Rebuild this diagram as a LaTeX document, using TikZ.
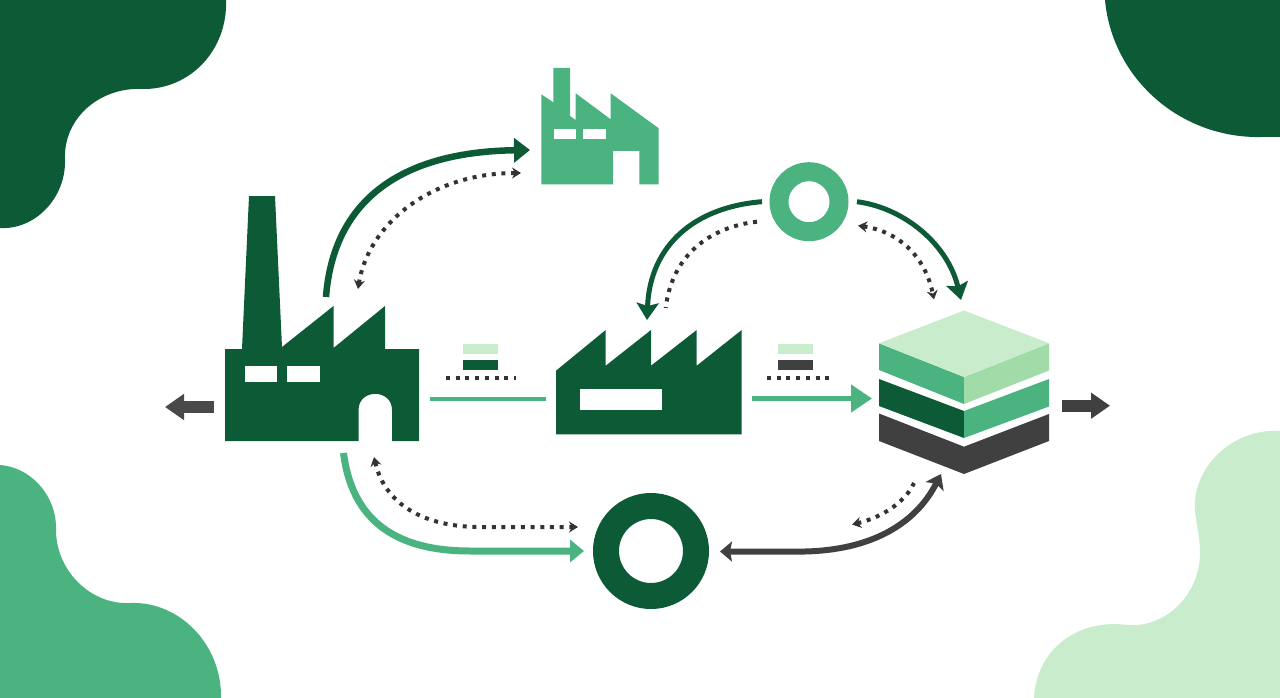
\documentclass[tikz,border=0pt]{standalone}
\usepackage{tikz}
\usetikzlibrary{arrows.meta,calc}
\definecolor{darkgreen}{HTML}{0D5A36}
\definecolor{midgreen}{HTML}{4BB380}
\definecolor{palegreen}{HTML}{C8ECCC}
\definecolor{sidegreen}{HTML}{A0DBA8}
\definecolor{darkgrey}{HTML}{404040}
\definecolor{dotgrey}{HTML}{333333}
\tikzset{
  ringnode/.style={circle,draw=#1,fill=none,inner sep=0pt,outer sep=0pt},
  legendbar/.style={fill=#1,draw=none,minimum width=34.5pt,minimum height=10pt,inner sep=0pt,outer sep=0pt},
  dotline/.style={dotgrey,line width=4pt,dash pattern=on 4pt off 5.7pt},
  dothead/.tip={Stealth[length=9pt,width=11pt,inset=3pt]},
  flow/.style={line width=#1},
}
\begin{document}
\begin{tikzpicture}[x=1pt,y=-1pt]
\useasboundingbox (0,0) rectangle (1280,698);
% corner blobs
\fill[darkgreen] (0,0) -- (226,0) .. controls (228,50) and (190,90) .. (142,89) .. controls (100,87) and (63,118) .. (65,160) .. controls (66,198) and (35,230) .. (0,228) -- cycle;
\fill[darkgreen] (1105,0) .. controls (1112,78) and (1180,139) .. (1262,137) -- (1280,137) -- (1280,0) -- cycle;
\fill[midgreen] (0,465) .. controls (30,467) and (57,495) .. (56,530) .. controls (56,570) and (90,605) .. (130,603) .. controls (180,601) and (222,645) .. (221,698) -- (0,698) -- cycle;
\fill[palegreen] (1280,431) .. controls (1232,428) and (1192,468) .. (1195,510) .. controls (1196,525) and (1200,535) .. (1200,553) .. controls (1200,595) and (1165,628) .. (1128,625) .. controls (1075,618) and (1036,652) .. (1034,698) -- (1280,698) -- cycle;
% big factory
\fill[darkgreen] (225,441) -- (225,349) -- (242,349) -- (249,196) -- (275,196) -- (282,347) -- (333.5,306) -- (333.5,348) -- (385,306) -- (385,349) -- (419,349) -- (419,441) -- (392,441) -- (392,410) .. controls (392,388.5) and (358.5,388.5) .. (358.5,410) -- (358.5,441) -- cycle;
\fill[white] (245,365.5) rectangle (277,381.5);
\fill[white] (287,365.5) rectangle (319.5,381.5);
% small factory
\fill[midgreen] (541.3,184.3) -- (541.3,94.3) -- (553.3,102.3) -- (553.3,68) -- (570,68) -- (570,116) -- (575.7,120) -- (575.7,93.3) -- (610.7,119.3) -- (610.7,93.3) -- (658.7,128.3) -- (658.7,184.3) -- (639.3,184.3) -- (639.3,151) -- (613,151) -- (613,184.3) -- cycle;
\fill[white] (554,129.3) rectangle (576.3,138.7);
\fill[white] (583.3,129.3) rectangle (605.7,138.7);
% middle factory
\fill[darkgreen] (556,434.3) -- (556,370.7) -- (605.7,330) -- (605.7,365.7) -- (651,330) -- (651,365.7) -- (696.7,330) -- (696.7,365.7) -- (741.7,330) -- (741.7,434.3) -- cycle;
\fill[white] (580,389.3) rectangle (661.7,410.3);
% stack
\fill[darkgrey] (879,413.5) -- (964,446.7) -- (1049,414) -- (1049,441) -- (964,474) -- (879,441) -- cycle;
\fill[darkgreen] (879,379) -- (964,411) -- (964,438) -- (879,406) -- cycle;
\fill[midgreen] (964,411) -- (1049,379) -- (1049,406.5) -- (964,438) -- cycle;
\fill[midgreen] (879,343.3) -- (964,377) -- (964,404) -- (879,370) -- cycle;
\fill[sidegreen] (964,377) -- (1049,343.3) -- (1049,370.5) -- (964,404) -- cycle;
\fill[palegreen] (879,343.3) -- (964,310.5) -- (1049,343.3) -- (964,377) -- cycle;
% rings
\node[ringnode=midgreen,line width=19pt,minimum size=60pt] (topring) at (809,201.7) {};
\node[ringnode=darkgreen,line width=26pt,minimum size=90pt] (lowring) at (651,551) {};
% legends
\node[legendbar=palegreen] (legendAtop) at (480.7,349) {};
\node[legendbar=darkgreen] (legendAlow) at (480.7,365) {};
\node[legendbar=palegreen] (legendBtop) at (795.5,349) {};
\node[legendbar=darkgrey] (legendBlow) at (795.5,365) {};
% connector ends
\coordinate (bigTop) at (326,297);
\coordinate (bigDot) at (358,289);
\coordinate (bigBot) at (343.5,453);
\coordinate (bigBotDot) at (374,457);
\coordinate (bigOut) at (213.5,407);
\coordinate (bigOutTip) at (165,407);
\coordinate (smallIn) at (530,150);
\coordinate (smallDot) at (521,173);
\coordinate (ringL) at (762,201.7);
\coordinate (ringR) at (857,201.7);
\coordinate (ringDotL) at (757,221.7);
\coordinate (ringDotR) at (858,225.7);
\coordinate (midTip) at (647,320);
\coordinate (midDot) at (665.7,308);
\coordinate (stackTip) at (961,300);
\coordinate (stackDot) at (934,299.5);
\coordinate (stackLow) at (941,474);
\coordinate (stackLowDot) at (914,483);
\coordinate (stackOut) at (1061.5,405.7);
\coordinate (stackOutTip) at (1110,405.7);
\coordinate (lowIn) at (584,551);
\coordinate (lowDot) at (578,527);
\coordinate (lowOut) at (720,551.5);
\coordinate (lowOutDot) at (852,524.5);
\coordinate (linkAa) at (430,399);
\coordinate (linkAb) at (546,399);
\coordinate (linkBa) at (752,398.5);
\coordinate (linkBb) at (872,398.5);
\coordinate (dotsAa) at (446,378);
\coordinate (dotsAb) at (516,378);
\coordinate (dotsBa) at (767,378);
\coordinate (dotsBb) at (829.5,378);
% straight links
\draw[flow=4.5pt,midgreen] (linkAa) -- (linkAb);
\draw[flow=4.5pt,midgreen,-{Triangle[length=21pt,width=27pt]}] (linkBa) -- (linkBb);
\draw[dotline] (dotsAa) -- (dotsAb);
\draw[dotline] (dotsBa) -- (dotsBb);
\draw[flow=12pt,darkgrey!95!white,-{Triangle[length=19pt,width=25pt]}] (bigOut) -- (bigOutTip);
\draw[flow=12pt,darkgrey,-{Triangle[length=19pt,width=25pt]}] (stackOut) -- (stackOutTip);
% curved arrows
\draw[flow=6.5pt,darkgreen,-{Triangle[length=16pt,width=24pt]}] (bigTop) .. controls (333,205) and (395,152) .. (smallIn);
\draw[flow=5pt,darkgreen,-{Stealth[length=17pt,width=22pt,inset=3pt]}] (ringL) .. controls (695,207) and (650,245) .. (midTip);
\draw[flow=5pt,darkgreen,-{Stealth[length=17pt,width=22pt,inset=3pt]}] (ringR) .. controls (905,208) and (948,245) .. (stackTip);
\draw[flow=7pt,midgreen,-{Triangle[length=14pt,width=22pt]}] (bigBot) .. controls (352,520) and (395,551) .. (470,551) -- (lowIn);
\draw[flow=6pt,darkgrey,{Stealth[length=12pt,width=20pt,inset=2pt]}-{Stealth[length=14pt,width=20pt,inset=3pt]}] (lowOut) -- (805,551.5) .. controls (870,550) and (915,525) .. (stackLow);
% dotted arrows
\draw[dotline,dothead-dothead] (bigDot) .. controls (368,225) and (430,173) .. (smallDot);
\draw[dotline] (ringDotL) .. controls (710,227) and (672,255) .. (midDot);
\draw[dotline,dothead-dothead] (ringDotR) .. controls (897,231) and (925,255) .. (stackDot);
\draw[dotline,dothead-dothead] (bigBotDot) .. controls (385,505) and (425,527) .. (480,527) -- (lowDot);
\draw[dotline,dothead-] (lowOutDot) .. controls (880,518) and (905,503) .. (stackLowDot);
\end{tikzpicture}
\end{document}
